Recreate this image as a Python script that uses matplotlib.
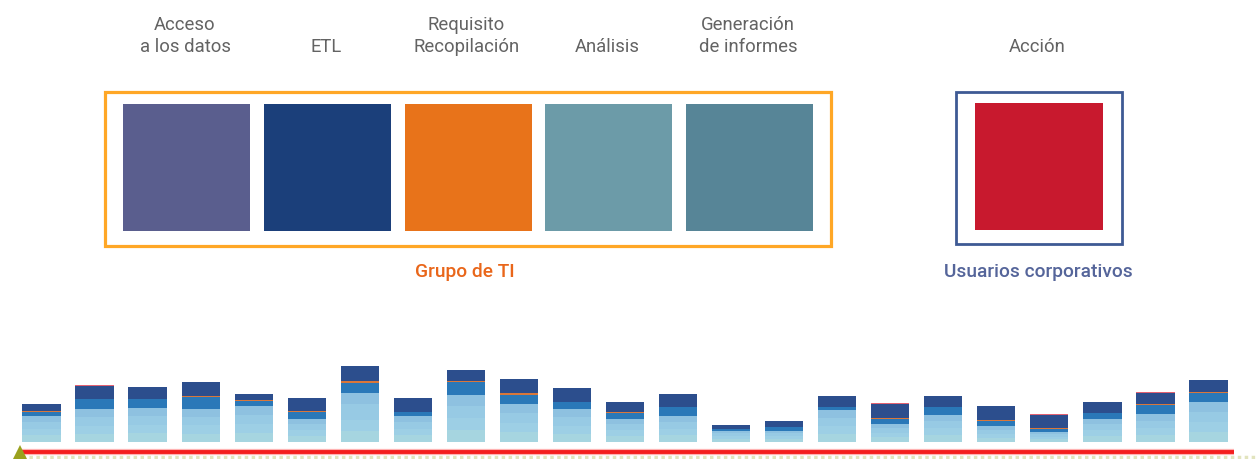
import matplotlib
matplotlib.use("Agg")
import matplotlib.pyplot as plt
from matplotlib.patches import Rectangle
import numpy as np

plt.rcParams['font.family'] = ['Roboto', 'DejaVu Sans']

# ---- pipeline stages ----
stage_lines = [["Acceso", "a los datos"], ["ETL"], ["Requisito", "Recopilación"],
               ["Análisis"], ["Generación", "de informes"]]
stage_colors = ["#5A5E8E", "#1B3F7A", "#E8731A", "#6C9BA8", "#578597"]
action_lines = ["Acción"]
action_color = "#C8192E"
group_it = "Grupo de TI"
group_users = "Usuarios corporativos"

# ---- stacked activity bars (bottom to top) ----
light1 = [7, 8, 9, 8, 9, 6, 11, 7, 12, 10, 8, 6, 7, 3, 3, 8, 5, 7, 4, 3, 6, 7, 10]
light2 = [6, 8, 8, 9, 9, 6, 11, 6, 12, 9, 8, 6, 6, 3, 3, 8, 4, 7, 4, 2, 6, 7, 10]
light3 = [7, 9, 9, 8, 9, 6, 16, 7, 12, 10, 9, 6, 7, 3, 3, 8, 5, 7, 4, 3, 6, 7, 10]
light4 = [6, 8, 8, 8, 9, 5, 11, 6, 11, 9, 8, 5, 6, 2.5, 2, 8, 4, 6, 4, 2, 5, 7, 10]
mid    = [4, 10, 9, 12, 5, 7, 10, 4, 13, 9, 7, 6, 9, 1.5, 4, 3, 5, 8, 5, 3, 6, 9, 9]
accent = [1, 0, 0, 1, 1, 1, 2, 0, 1, 2, 0, 1, 0, 0, 0, 0, 1, 0, 1, 1, 0, 1, 1]
navy   = [7, 13, 12, 14, 6, 13, 15, 14, 11, 14, 14, 10, 13, 4, 6, 11, 14, 11, 14, 13, 11, 11, 12]
cap    = [0, 1, 0, 0, 0, 0, 0, 0, 0, 0, 0, 0, 0, 0, 0, 0, 1, 0, 0, 1, 0, 1, 0]

layers = [light1, light2, light3, light4, mid, accent, navy, cap]
layer_colors = ["#A6D5E0", "#9DCFE5", "#97CAE4", "#8EC1E0", "#2A78B8",
                "#D9773A", "#2C4E8D", "#E26272"]

W, H = 1257, 460
fig = plt.figure(figsize=(W / 100, H / 100), dpi=100)
fig.patch.set_facecolor("white")

# ---- top diagram, in pixel units ----
ax = fig.add_axes([0, 0, 1, 1])
ax.set_xlim(0, W)
ax.set_ylim(H, 0)
ax.axis("off")

sq = 127
sq_top = 105
first_cx, step = 186.5, 140.75
centers = [first_cx + step * i for i in range(len(stage_colors))]
ax.bar(centers, sq, bottom=sq_top, width=sq, color=stage_colors, linewidth=0)

action_cx = 1039
ax.bar([action_cx], sq, bottom=sq_top - 1, width=128, color=action_color, linewidth=0)

ax.add_patch(Rectangle((105, 93), 726, 154, fill=False, edgecolor="#FFA726", linewidth=2.3))
ax.add_patch(Rectangle((955.5, 93), 166, 152, fill=False, edgecolor="#3E5A94", linewidth=2.0))

label_kw = dict(ha="center", va="baseline", fontsize=13.3, color="#636363")
for cx, lines in zip(centers + [action_cx], stage_lines + [action_lines]):
    baselines = [29.5, 51.5] if len(lines) == 2 else [51.5]
    for txt, yb in zip(lines, baselines):
        ax.text(cx - 1.5, yb, txt, **label_kw)

ax.text(465, 277.5, group_it, ha="center", va="baseline", fontsize=13.8,
        fontweight="medium", color="#E9661A")
ax.text(1038.5, 277.5, group_users, ha="center", va="baseline", fontsize=13.8,
        fontweight="medium", color="#55659A")

# ---- bottom strip of stacked bars ----
bx = fig.add_axes([0, 0, 1, 100 / H])
bx.patch.set_alpha(0)
n = len(navy)
x = np.arange(n)
px = (1208.5 - 41.5) / (n - 1)
bx.set_xlim(-41.5 / px, (W - 41.5) / px)
bx.set_ylim(-17, 83)
bx.axis("off")

bottom = np.zeros(n)
for vals, col in zip(layers, layer_colors):
    vals = np.asarray(vals, dtype=float)
    bx.bar(x, vals, bottom=bottom, width=0.72, color=col, linewidth=0)
    bottom += vals

x0, x1 = (22 - 41.5) / px, (1234 - 41.5) / px
bx.hlines(-10, x0, x1, color="#FFB3B3", linewidth=4.5)
bx.hlines(-10, x0, x1, color="#F41E1E", linewidth=2.8)
bx.hlines(-15, x0, (W - 41.5) / px, color="#E2E4BE", linewidth=2.5,
          linestyles=(0, (1, 1)))
bx.plot([(20 - 41.5) / px], [-12], marker="^", markersize=13,
        color="#9AA11E", markeredgewidth=0, clip_on=False)

fig.savefig("out.png", dpi=100, facecolor="white")
